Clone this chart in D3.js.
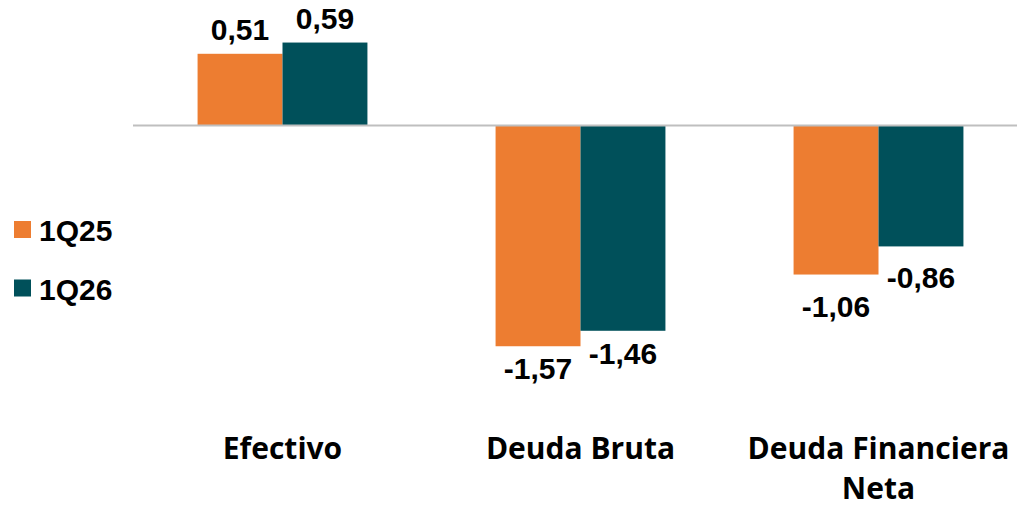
<!DOCTYPE html>
<html>
<head>
<meta charset="utf-8">
<script src="https://cdn.jsdelivr.net/npm/d3@7"></script>
<style>
html,body{margin:0;padding:0;background:#fff;}
svg{display:block;}
</style>
</head>
<body>
<svg id="chart" width="1017" height="506"></svg>
<script>
const categories = ["Efectivo", "Deuda Bruta", "Deuda Financiera Neta"];
const seriesNames = ["1Q25", "1Q26"];
const values1Q25 = [0.51, -1.57, -1.06];
const values1Q26 = [0.59, -1.46, -0.86];
const valueLabels1Q25 = ["0,51", "-1,57", "-1,06"];
const valueLabels1Q26 = ["0,59", "-1,46", "-0,86"];
const colors = ["#ED7D31", "#00505A"];

const svg = d3.select("#chart");
const W = 1017, H = 506;

const x0 = d3.scaleBand().domain(categories).range([133.5, 1027.5])
  .paddingInner(0.43).paddingOuter(0.215);
const x1 = d3.scaleBand().domain(seriesNames).range([0, x0.bandwidth()]).padding(0);
const y = d3.scaleLinear().domain([-1.8, 0.8]).range([125.5 + 1.8 * 140.6, 125.5 - 0.8 * 140.6]);

const series = [
  {name: seriesNames[0], values: values1Q25, labels: valueLabels1Q25, color: colors[0]},
  {name: seriesNames[1], values: values1Q26, labels: valueLabels1Q26, color: colors[1]}
];

// negative-label spacing per category (layout, as in the reference)
const negGap = {"Deuda Bruta": 33, "Deuda Financiera Neta": 42};

const data = [];
series.forEach(s => categories.forEach((c, i) => data.push({cat: c, s: s.name, v: s.values[i], label: s.labels[i], color: s.color})));

// bars
svg.append("g").selectAll("rect").data(data).join("rect")
  .attr("x", d => x0(d.cat) + x1(d.s))
  .attr("width", x1.bandwidth())
  .attr("y", d => y(Math.max(0, d.v)))
  .attr("height", d => Math.abs(y(d.v) - y(0)))
  .attr("fill", d => d.color);

// zero line
svg.append("line")
  .attr("x1", x0.range()[0] - 0.5).attr("x2", W)
  .attr("y1", y(0)).attr("y2", y(0))
  .attr("stroke", "#BFBFBF").attr("stroke-width", 2);

// value labels
svg.append("g").selectAll("text").data(data).join("text")
  .attr("x", d => x0(d.cat) + x1(d.s) + x1.bandwidth() / 2)
  .attr("y", d => d.v >= 0 ? y(d.v) - 14 : y(d.v) + (negGap[d.cat] || 33))
  .attr("text-anchor", "middle")
  .attr("font-family", "'Liberation Sans', Arial, sans-serif")
  .attr("font-weight", "bold")
  .attr("font-size", 30)
  .attr("fill", "#000")
  .text(d => d.label);

// category labels (wrap "Deuda Financiera Neta")
const catLines = {"Efectivo": ["Efectivo"], "Deuda Bruta": ["Deuda Bruta"], "Deuda Financiera Neta": ["Deuda Financiera", "Neta"]};
const cg = svg.append("g");
categories.forEach(c => {
  const t = cg.append("text")
    .attr("x", x0(c) + x0.bandwidth() / 2)
    .attr("y", 459)
    .attr("text-anchor", "middle")
    .attr("font-family", "'Open Sans', 'Noto Sans', sans-serif")
    .attr("font-weight", "bold")
    .attr("font-size", 30)
    .attr("fill", "#000");
  catLines[c].forEach((ln, i) => {
    t.append("tspan").attr("x", x0(c) + x0.bandwidth() / 2).attr("dy", i === 0 ? 0 : 40).text(ln);
  });
});

// legend
const lg = svg.append("g");
series.forEach((s, i) => {
  const yy = 221 + i * 58.5;
  lg.append("rect").attr("x", 14).attr("y", yy).attr("width", 17).attr("height", 17).attr("fill", s.color);
  lg.append("text").attr("x", 39).attr("y", yy + 20)
    .attr("font-family", "'Liberation Sans', Arial, sans-serif")
    .attr("font-weight", "bold").attr("font-size", 30).attr("fill", "#000")
    .text(s.name);
});
</script>
</body>
</html>
